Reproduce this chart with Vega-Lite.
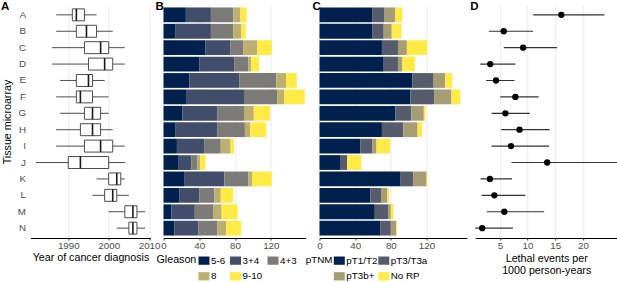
{
  "$schema": "https://vega.github.io/schema/vega-lite/v6.json",
  "padding": {"left": 0.5, "top": 0, "right": 0, "bottom": 0},
  "background": "white",
  "config": {
    "font": "Liberation Sans",
    "view": {"stroke": null},
    "axis": {"domainColor": "black", "domainWidth": 1, "tickColor": "#333333", "tickSize": 2, "tickWidth": 1, "labelColor": "#4D4D4D", "labelFontSize": 9.8, "labelPadding": 0.5, "titleFontSize": 10.7, "titleFontWeight": "normal", "titleColor": "black", "titlePadding": 2, "gridColor": "#EBEBEB", "gridWidth": 1, "labelFlush": false, "labelOverlap": false, "titleLineHeight": 12.4},
    "title": {"anchor": "start", "frame": "group", "fontSize": 11.5, "fontWeight": "bold", "color": "black", "dy": 11},
    "legend": {"titleFontWeight": "normal", "titleColor": "black", "titleFontSize": 10.7, "labelColor": "black", "labelFontSize": 9.8, "symbolType": "M-1,-0.75H1V0.75H-1Z", "symbolSize": 121, "symbolStrokeWidth": 0, "symbolOpacity": 1, "titleOrient": "left", "titleAnchor": "start", "titleBaseline": "top", "direction": "horizontal", "labelOffset": 1.5, "rowPadding": 5, "titlePadding": 2, "orient": "none"}
  },
  "datasets": {
    "box": [
      {"tma": "A", "lo": 1987, "q1": 1991, "med": 1992, "q3": 1994, "hi": 1997},
      {"tma": "B", "lo": 1987, "q1": 1992, "med": 1994.5, "q3": 1997, "hi": 2001},
      {"tma": "C", "lo": 1986, "q1": 1994, "med": 1998, "q3": 2000, "hi": 2004},
      {"tma": "D", "lo": 1986, "q1": 1995, "med": 1999, "q3": 2001, "hi": 2004},
      {"tma": "E", "lo": 1988, "q1": 1992, "med": 1995, "q3": 1996, "hi": 1999},
      {"tma": "F", "lo": 1987, "q1": 1992, "med": 1993, "q3": 1996, "hi": 2000},
      {"tma": "G", "lo": 1988, "q1": 1994, "med": 1996, "q3": 1998, "hi": 2000},
      {"tma": "H", "lo": 1987, "q1": 1993, "med": 1996, "q3": 1998, "hi": 2001},
      {"tma": "I", "lo": 1987, "q1": 1994, "med": 1998, "q3": 2001, "hi": 2004},
      {"tma": "J", "lo": 1982, "q1": 1990, "med": 1993, "q3": 2000, "hi": 2004},
      {"tma": "K", "lo": 1997, "q1": 2000, "med": 2002, "q3": 2003, "hi": 2004},
      {"tma": "L", "lo": 1996, "q1": 1999, "med": 2001, "q3": 2002, "hi": 2005},
      {"tma": "M", "lo": 2000, "q1": 2004, "med": 2006, "q3": 2007, "hi": 2009},
      {"tma": "N", "lo": 2002, "q1": 2005, "med": 2006, "q3": 2007, "hi": 2009}
    ],
    "gleason": [
      {"tma": "A", "g": "5-6", "k": 1, "n": 25}, {"tma": "A", "g": "3+4", "k": 2, "n": 28}, {"tma": "A", "g": "4+3", "k": 3, "n": 25}, {"tma": "A", "g": "8", "k": 4, "n": 8}, {"tma": "A", "g": "9-10", "k": 5, "n": 7},
      {"tma": "B", "g": "5-6", "k": 1, "n": 13}, {"tma": "B", "g": "3+4", "k": 2, "n": 40}, {"tma": "B", "g": "4+3", "k": 3, "n": 25}, {"tma": "B", "g": "8", "k": 4, "n": 9}, {"tma": "B", "g": "9-10", "k": 5, "n": 5},
      {"tma": "C", "g": "5-6", "k": 1, "n": 47}, {"tma": "C", "g": "3+4", "k": 2, "n": 28}, {"tma": "C", "g": "4+3", "k": 3, "n": 14}, {"tma": "C", "g": "8", "k": 4, "n": 16}, {"tma": "C", "g": "9-10", "k": 5, "n": 16},
      {"tma": "D", "g": "5-6", "k": 1, "n": 40}, {"tma": "D", "g": "3+4", "k": 2, "n": 39}, {"tma": "D", "g": "4+3", "k": 3, "n": 16}, {"tma": "D", "g": "8", "k": 4, "n": 3}, {"tma": "D", "g": "9-10", "k": 5, "n": 9},
      {"tma": "E", "g": "5-6", "k": 1, "n": 29}, {"tma": "E", "g": "3+4", "k": 2, "n": 56}, {"tma": "E", "g": "4+3", "k": 3, "n": 41}, {"tma": "E", "g": "8", "k": 4, "n": 11}, {"tma": "E", "g": "9-10", "k": 5, "n": 12},
      {"tma": "F", "g": "5-6", "k": 1, "n": 26}, {"tma": "F", "g": "3+4", "k": 2, "n": 64}, {"tma": "F", "g": "4+3", "k": 3, "n": 37}, {"tma": "F", "g": "8", "k": 4, "n": 8}, {"tma": "F", "g": "9-10", "k": 5, "n": 23},
      {"tma": "G", "g": "5-6", "k": 1, "n": 21}, {"tma": "G", "g": "3+4", "k": 2, "n": 39}, {"tma": "G", "g": "4+3", "k": 3, "n": 30}, {"tma": "G", "g": "8", "k": 4, "n": 11}, {"tma": "G", "g": "9-10", "k": 5, "n": 18},
      {"tma": "H", "g": "5-6", "k": 1, "n": 13}, {"tma": "H", "g": "3+4", "k": 2, "n": 47}, {"tma": "H", "g": "4+3", "k": 3, "n": 31}, {"tma": "H", "g": "8", "k": 4, "n": 6}, {"tma": "H", "g": "9-10", "k": 5, "n": 18},
      {"tma": "I", "g": "5-6", "k": 1, "n": 15}, {"tma": "I", "g": "3+4", "k": 2, "n": 31}, {"tma": "I", "g": "4+3", "k": 3, "n": 18}, {"tma": "I", "g": "8", "k": 4, "n": 11}, {"tma": "I", "g": "9-10", "k": 5, "n": 4},
      {"tma": "J", "g": "5-6", "k": 1, "n": 17}, {"tma": "J", "g": "3+4", "k": 2, "n": 14}, {"tma": "J", "g": "4+3", "k": 3, "n": 7}, {"tma": "J", "g": "8", "k": 4, "n": 3}, {"tma": "J", "g": "9-10", "k": 5, "n": 6},
      {"tma": "K", "g": "5-6", "k": 1, "n": 23}, {"tma": "K", "g": "3+4", "k": 2, "n": 45}, {"tma": "K", "g": "4+3", "k": 3, "n": 27}, {"tma": "K", "g": "8", "k": 4, "n": 4}, {"tma": "K", "g": "9-10", "k": 5, "n": 22},
      {"tma": "L", "g": "5-6", "k": 1, "n": 18}, {"tma": "L", "g": "3+4", "k": 2, "n": 22}, {"tma": "L", "g": "4+3", "k": 3, "n": 17}, {"tma": "L", "g": "8", "k": 4, "n": 7}, {"tma": "L", "g": "9-10", "k": 5, "n": 14},
      {"tma": "M", "g": "5-6", "k": 1, "n": 9}, {"tma": "M", "g": "3+4", "k": 2, "n": 26}, {"tma": "M", "g": "4+3", "k": 3, "n": 21}, {"tma": "M", "g": "8", "k": 4, "n": 9}, {"tma": "M", "g": "9-10", "k": 5, "n": 18},
      {"tma": "N", "g": "5-6", "k": 1, "n": 12}, {"tma": "N", "g": "3+4", "k": 2, "n": 27}, {"tma": "N", "g": "4+3", "k": 3, "n": 21}, {"tma": "N", "g": "8", "k": 4, "n": 10}, {"tma": "N", "g": "9-10", "k": 5, "n": 17}
    ],
    "ptnm": [
      {"tma": "A", "s": "pT1/T2", "k": 1, "n": 59}, {"tma": "A", "s": "pT3/T3a", "k": 2, "n": 14}, {"tma": "A", "s": "pT3b+", "k": 3, "n": 12}, {"tma": "A", "s": "No RP", "k": 4, "n": 8},
      {"tma": "B", "s": "pT1/T2", "k": 1, "n": 59}, {"tma": "B", "s": "pT3/T3a", "k": 2, "n": 13}, {"tma": "B", "s": "pT3b+", "k": 3, "n": 9}, {"tma": "B", "s": "No RP", "k": 4, "n": 11},
      {"tma": "C", "s": "pT1/T2", "k": 1, "n": 70}, {"tma": "C", "s": "pT3/T3a", "k": 2, "n": 18}, {"tma": "C", "s": "pT3b+", "k": 3, "n": 10}, {"tma": "C", "s": "No RP", "k": 4, "n": 23},
      {"tma": "D", "s": "pT1/T2", "k": 1, "n": 72}, {"tma": "D", "s": "pT3/T3a", "k": 2, "n": 16}, {"tma": "D", "s": "pT3b+", "k": 3, "n": 5}, {"tma": "D", "s": "No RP", "k": 4, "n": 14},
      {"tma": "E", "s": "pT1/T2", "k": 1, "n": 104}, {"tma": "E", "s": "pT3/T3a", "k": 2, "n": 24}, {"tma": "E", "s": "pT3b+", "k": 3, "n": 13}, {"tma": "E", "s": "No RP", "k": 4, "n": 8},
      {"tma": "F", "s": "pT1/T2", "k": 1, "n": 102}, {"tma": "F", "s": "pT3/T3a", "k": 2, "n": 27}, {"tma": "F", "s": "pT3b+", "k": 3, "n": 19}, {"tma": "F", "s": "No RP", "k": 4, "n": 10},
      {"tma": "G", "s": "pT1/T2", "k": 1, "n": 85}, {"tma": "G", "s": "pT3/T3a", "k": 2, "n": 18}, {"tma": "G", "s": "pT3b+", "k": 3, "n": 14}, {"tma": "G", "s": "No RP", "k": 4, "n": 2},
      {"tma": "H", "s": "pT1/T2", "k": 1, "n": 70}, {"tma": "H", "s": "pT3/T3a", "k": 2, "n": 24}, {"tma": "H", "s": "pT3b+", "k": 3, "n": 16}, {"tma": "H", "s": "No RP", "k": 4, "n": 5},
      {"tma": "I", "s": "pT1/T2", "k": 1, "n": 46}, {"tma": "I", "s": "pT3/T3a", "k": 2, "n": 13}, {"tma": "I", "s": "pT3b+", "k": 3, "n": 5}, {"tma": "I", "s": "No RP", "k": 4, "n": 15},
      {"tma": "J", "s": "pT1/T2", "k": 1, "n": 23}, {"tma": "J", "s": "pT3/T3a", "k": 2, "n": 8}, {"tma": "J", "s": "pT3b+", "k": 3, "n": 0}, {"tma": "J", "s": "No RP", "k": 4, "n": 16},
      {"tma": "K", "s": "pT1/T2", "k": 1, "n": 91}, {"tma": "K", "s": "pT3/T3a", "k": 2, "n": 14}, {"tma": "K", "s": "pT3b+", "k": 3, "n": 15}, {"tma": "K", "s": "No RP", "k": 4, "n": 1},
      {"tma": "L", "s": "pT1/T2", "k": 1, "n": 57}, {"tma": "L", "s": "pT3/T3a", "k": 2, "n": 12}, {"tma": "L", "s": "pT3b+", "k": 3, "n": 7}, {"tma": "L", "s": "No RP", "k": 4, "n": 2},
      {"tma": "M", "s": "pT1/T2", "k": 1, "n": 62}, {"tma": "M", "s": "pT3/T3a", "k": 2, "n": 15}, {"tma": "M", "s": "pT3b+", "k": 3, "n": 3}, {"tma": "M", "s": "No RP", "k": 4, "n": 3},
      {"tma": "N", "s": "pT1/T2", "k": 1, "n": 68}, {"tma": "N", "s": "pT3/T3a", "k": 2, "n": 12}, {"tma": "N", "s": "pT3b+", "k": 3, "n": 6}, {"tma": "N", "s": "No RP", "k": 4, "n": 1}
    ],
    "lethal": [
      {"tma": "A", "est": 16.1, "lo": 11.0, "hi": 23.9},
      {"tma": "B", "est": 5.7, "lo": 3.0, "hi": 11.0},
      {"tma": "C", "est": 9.2, "lo": 5.7, "hi": 15.3},
      {"tma": "D", "est": 3.25, "lo": 1.45, "hi": 7.8},
      {"tma": "E", "est": 4.3, "lo": 2.5, "hi": 7.65},
      {"tma": "F", "est": 7.8, "lo": 5.05, "hi": 12.0},
      {"tma": "G", "est": 6.0, "lo": 3.5, "hi": 10.4},
      {"tma": "H", "est": 8.55, "lo": 5.25, "hi": 14.0},
      {"tma": "I", "est": 7.0, "lo": 3.5, "hi": 13.9},
      {"tma": "J", "est": 13.55, "lo": 7.1, "hi": 30},
      {"tma": "K", "est": 3.2, "lo": 1.5, "hi": 7.2},
      {"tma": "L", "est": 4.0, "lo": 1.7, "hi": 9.6},
      {"tma": "M", "est": 5.8, "lo": 2.65, "hi": 13.0},
      {"tma": "N", "est": 1.8, "lo": 0.3, "hi": 7.35}
    ]
  },
  "spacing": 2.7,
  "bounds": "full",
  "resolve": {"scale": {"x": "independent", "color": "independent"}},
  "hconcat": [
    {
      "spacing": 13,
      "bounds": "flush",
      "resolve": {"scale": {"x": "independent", "color": "independent"}},
      "hconcat": [
        {
          "width": 120,
          "height": 233,
          "title": {"text": "A", "dx": -29.5},
          "data": {"name": "box"},
          "encoding": {
            "y": {"field": "tma", "type": "nominal", "scale": {"type": "band", "paddingInner": 0.1, "paddingOuter": 0.15}, "axis": {"title": "Tissue microarray", "ticks": false, "domain": false, "labelPadding": 5, "titlePadding": 5, "grid": false, "labelFontSize": 9.8}}
          },
          "layer": [
            {
              "mark": {"type": "rule", "color": "#4D4D4D", "strokeWidth": 1},
              "encoding": {
                "x": {"field": "lo", "type": "quantitative", "scale": {"domain": [1980.65, 2010.35], "nice": false, "zero": false}, "axis": {"title": "Year of cancer diagnosis", "values": [1990, 2000, 2010], "format": "d"}},
                "x2": {"field": "hi"}
              }
            },
            {
              "mark": {"type": "bar", "fill": "white", "stroke": "#4D4D4D", "strokeWidth": 1, "height": {"band": 0.81}},
              "encoding": {
                "x": {"field": "q1", "type": "quantitative"},
                "x2": {"field": "q3"}
              }
            },
            {
              "mark": {"type": "tick", "color": "#1A1A1A", "thickness": 1.6, "size": 12, "opacity": 1},
              "encoding": {
                "x": {"field": "med", "type": "quantitative"}
              }
            }
          ]
        },
        {
          "width": 142.2,
          "height": 233,
          "title": {"text": "B", "dx": -8},
          "data": {"name": "gleason"},
          "mark": {"type": "bar"},
          "encoding": {
            "y": {"field": "tma", "type": "nominal", "scale": {"type": "band", "paddingInner": 0.1, "paddingOuter": 0.15}, "axis": null},
            "x": {"field": "n", "type": "quantitative", "stack": "zero", "scale": {"domain": [0, 159], "nice": false}, "axis": {"title": null, "values": [0, 40, 80, 120]}},
            "color": {"field": "g", "type": "nominal", "scale": {"domain": ["5-6", "3+4", "4+3", "8", "9-10"], "range": ["#00204D", "#414D6B", "#7C7B78", "#BCAF6F", "#FFEA46"]}, "legend": {"title": "Gleason", "columns": 3, "legendX": -7, "legendY": 249.8, "columnPadding": 4.5}},
            "order": {"field": "k", "type": "quantitative"}
          }
        },
        {
          "width": 147.4,
          "height": 233,
          "title": {"text": "C", "dx": -7},
          "data": {"name": "ptnm"},
          "mark": {"type": "bar"},
          "encoding": {
            "y": {"field": "tma", "type": "nominal", "scale": {"type": "band", "paddingInner": 0.1, "paddingOuter": 0.15}, "axis": null},
            "x": {"field": "n", "type": "quantitative", "stack": "zero", "scale": {"domain": [0, 165.3], "nice": false}, "axis": {"title": null, "values": [0, 40, 80, 120]}},
            "color": {"field": "s", "type": "nominal", "scale": {"domain": ["pT1/T2", "pT3/T3a", "pT3b+", "No RP"], "range": ["#00204D", "#575C6D", "#A69D75", "#FFEA46"]}, "legend": {"title": "pTNM", "titleFontSize": 9.8, "titlePadding": 1, "columns": 2, "legendX": -13.7, "legendY": 249.8, "columnPadding": 0.5}},
            "order": {"field": "k", "type": "quantitative"}
          }
        }
      ]
    },
    {
      "width": 142,
      "height": 233,
      "title": {"text": "D", "dx": -5},
      "data": {"name": "lethal"},
      "encoding": {
        "y": {"field": "tma", "type": "nominal", "scale": {"type": "band", "paddingInner": 0.1, "paddingOuter": 0.15}, "axis": null}
      },
      "layer": [
        {
          "mark": {"type": "rule", "color": "#333333", "strokeWidth": 1.2, "clip": true},
          "encoding": {
            "x": {"field": "lo", "type": "quantitative", "scale": {"domain": [0.54, 26.2], "nice": false, "zero": false}, "axis": {"title": ["Lethal events per", "1000 person-years"], "values": [5, 10, 15, 20], "titlePadding": 3}},
            "x2": {"field": "hi"}
          }
        },
        {
          "mark": {"type": "circle", "color": "black", "opacity": 1, "size": 40},
          "encoding": {
            "x": {"field": "est", "type": "quantitative"}
          }
        }
      ]
    }
  ]
}
